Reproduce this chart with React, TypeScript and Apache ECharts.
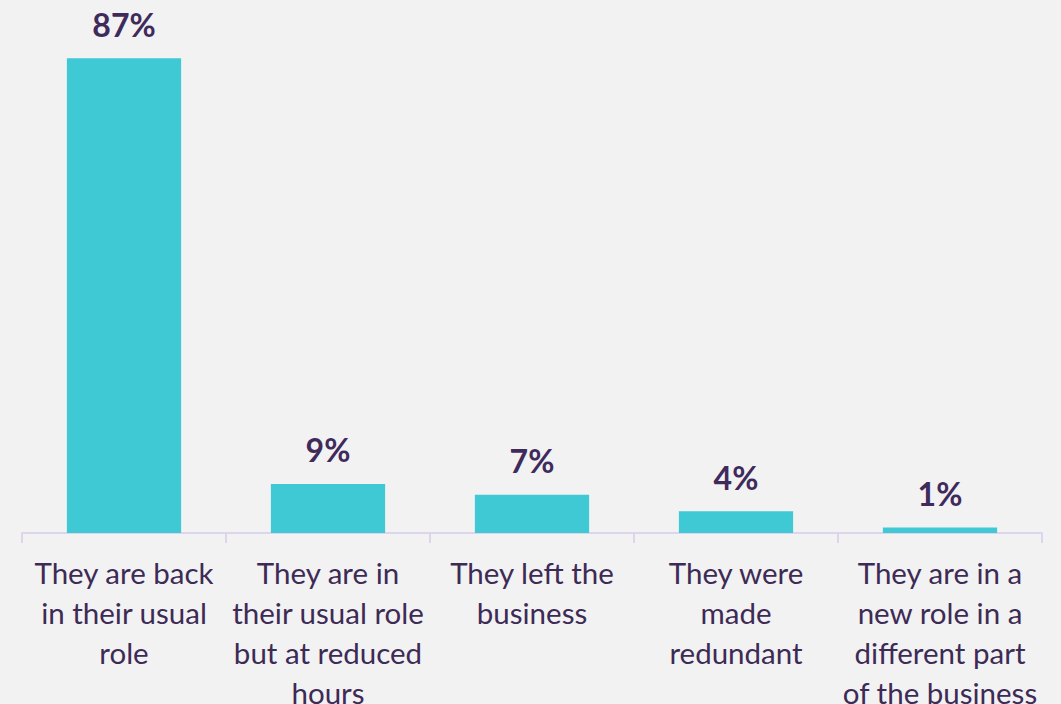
import React, { useEffect, useRef } from "react";
import * as echarts from "echarts";

const categories = [
  "They are back\nin their usual\nrole",
  "They are in\ntheir usual role\nbut at reduced\nhours",
  "They left the\nbusiness",
  "They were\nmade\nredundant",
  "They are in a\nnew role in a\ndifferent part\nof the business",
];
const values = [87, 9, 7, 4, 1];

export default function App() {
  const ref = useRef<HTMLDivElement>(null);
  useEffect(() => {
    const chart = echarts.init(ref.current!, undefined, { renderer: "svg" });
    chart.setOption({
      animation: false,
      backgroundColor: "#f2f2f2",
      grid: { left: 22, right: 19, top: 42, bottom: 171, containLabel: false, outerBoundsMode: "none" },
      xAxis: {
        type: "category",
        data: categories,
        axisLine: { lineStyle: { color: "#dcd5ec", width: 2 } },
        axisTick: { show: true, alignWithLabel: false, length: 10, lineStyle: { color: "#dcd5ec", width: 2 } },
        axisLabel: {
          interval: 0,
          margin: 19,
          color: "#3d2b56",
          fontFamily: "Lato",
          fontSize: 29.5,
          lineHeight: 40,
        },
      },
      yAxis: {
        type: "value",
        min: 0,
        max: 90,
        show: false,
        splitLine: { show: false },
      },
      series: [
        {
          type: "bar",
          data: values,
          barWidth: "56%",
          itemStyle: { color: "#3ec9d5" },
          label: {
            show: true,
            position: "top",
            distance: 18,
            formatter: "{c}%",
            color: "#3f2a5c",
            fontFamily: "Lato",
            fontWeight: "bold",
            fontSize: 32,
          },
        },
      ],
    });
    return () => chart.dispose();
  }, []);
  return <div ref={ref} style={{ width: 1061, height: 704, position: "absolute", left: 0, top: 0 }} />;
}
